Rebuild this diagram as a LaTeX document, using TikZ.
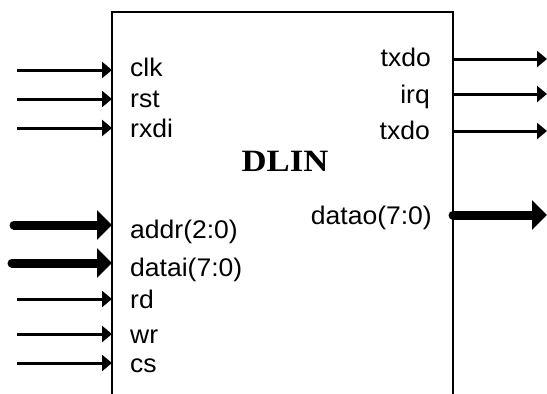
\documentclass[tikz,border=0pt]{standalone}
\usepackage{fontspec}
\setmainfont{Liberation Sans}[FakeStretch=1.04]
\newfontfamily\titlefont[FakeStretch=1.12]{Liberation Serif}
\usetikzlibrary{arrows.meta}
\tikzset{
  sig/.style={line width=3pt,-{Triangle[length=10pt,width=16pt]}},
  bus/.style={line width=9pt,line cap=round,-{Triangle[length=15pt,width=29pt]}},
  lbl/.style={inner sep=0pt,font=\fontsize{25.5}{30}\selectfont},
  inl/.style={lbl,anchor=base west},
  outl/.style={lbl,anchor=base east},
}
\begin{document}
\begin{tikzpicture}[x=1pt,y=-1pt]
\useasboundingbox (0,0) rectangle (547,394);
% block outline (open at bottom)
\draw[line width=2pt] (112,400) -- (112,12) -- (453,12) -- (453,400);
\node[font=\titlefont\bfseries\fontsize{31}{36}\selectfont,inner sep=0pt,anchor=base] (title) at (285,171) {DLIN};
% input ports
\foreach \n/\y in {clk/70,rst/99,rxdi/128,rd/299,wr/334,cs/363}{
  \coordinate (\n s) at (17,\y);
  \coordinate (\n e) at (112,\y);
}
\coordinate (addrs) at (14,225); \coordinate (addre) at (112,225);
\coordinate (datais) at (12,263); \coordinate (dataie) at (112,263);
\draw[sig] (clks) -- (clke);
\draw[sig] (rsts) -- (rste);
\draw[sig] (rxdis) -- (rxdie);
\draw[sig] (rds) -- (rde);
\draw[sig] (wrs) -- (wre);
\draw[sig] (css) -- (cse);
\draw[bus] (addrs) -- (addre);
\draw[bus] (datais) -- (dataie);
\node[inl] (lclk) at (130,76) {clk};
\node[inl] (lrst) at (130,107) {rst};
\node[inl] (lrxdi) at (130,137) {rxdi};
\node[inl] (laddr) at (130,238) {addr(2:0)};
\node[inl] (ldatai) at (130,276) {datai(7:0)};
\node[inl] (lrd) at (130,308) {rd};
\node[inl] (lwr) at (130,343) {wr};
\node[inl] (lcs) at (130,372) {cs};
% output ports
\foreach \n/\y in {txa/59,irq/94,txb/131}{
  \coordinate (\n s) at (453,\y);
  \coordinate (\n e) at (547,\y);
}
\coordinate (datas) at (453,215); \coordinate (datae) at (547,215);
\draw[sig] (txas) -- (txae);
\draw[sig] (irqs) -- (irqe);
\draw[sig] (txbs) -- (txbe);
\draw[bus] (datas) -- (datae);
\node[outl] (ltxa) at (431,66) {txdo};
\node[outl] (lirq) at (430,103) {irq};
\node[outl] (ltxb) at (430,139) {txdo};
\node[outl] (ldata) at (432,224) {datao(7:0)};
\end{tikzpicture}
\end{document}
